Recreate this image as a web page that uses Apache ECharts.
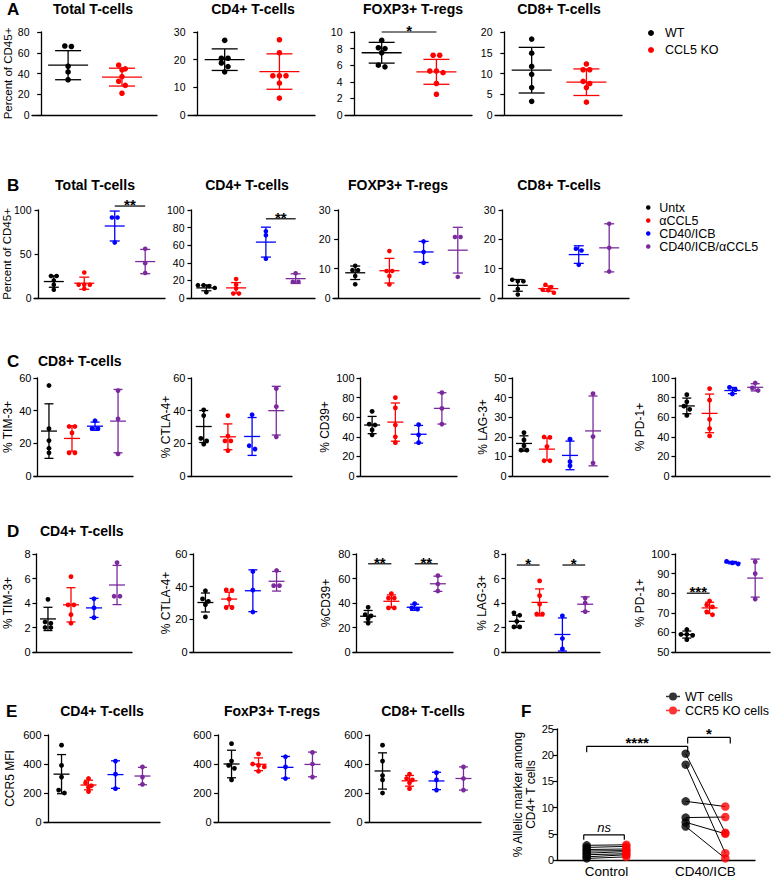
<!DOCTYPE html>
<html><head><meta charset="utf-8">
<script src="https://cdn.jsdelivr.net/npm/echarts@6.0.0/dist/echarts.min.js"></script>
<style>html,body{margin:0;padding:0;background:#fff;}#chart{width:772px;height:877px;}</style>
</head><body><div id="chart"></div>
<script>
// ---------------- group / category names ----------------
const groupsA = ['WT', 'CCL5 KO'];
const groupsB = ['Untx', 'αCCL5', 'CD40/ICB', 'CD40/ICB/αCCL5'];
const seriesF = ['WT cells', 'CCR5 KO cells'];
const categoriesF = ['Control', 'CD40/ICB'];

// ---------------- A: Percent of CD45+ ----------------
const aTotalAxis = [0, 80, 20];
const aTotalPts = [[66, 66.5, 47, 41.5, 34], [48, 44.5, 43.5, 37, 32.5, 28.5, 21]];
const aTotalMean = [48, 36.5];
const aTotalSd = [14, 8.6];
const aCd4Axis = [0, 30, 10];
const aCd4Pts = [[27, 20.5, 20.5, 18.8, 17.5, 15.6], [27.2, 22.5, 14.2, 14.2, 14.2, 11.5, 6.1]];
const aCd4Mean = [20, 15.7];
const aCd4Sd = [3.9, 6.4];
const aTregAxis = [0, 10, 2];
const aTregPts = [[9, 8.1, 8, 7.5, 6, 5.8], [7.2, 7.2, 5.3, 5.3, 5.1, 3.8, 2.5]];
const aTregMean = [7.5, 5.2];
const aTregSd = [1.25, 1.5];
const aTregSig = [[0, 1, 10, '*']];
const aCd8Axis = [0, 20, 5];
const aCd8Pts = [[18.3, 14.9, 11.7, 9.8, 6.6, 3.3], [12.3, 10.9, 10.9, 8.1, 7.6, 6.6, 3.1]];
const aCd8Mean = [10.8, 7.9];
const aCd8Sd = [5.5, 3.2];

// ---------------- B: Percent of CD45+ (treatments) ----------------
const bTotalAxis = [0, 100, 50];
const bTotalPts = [[25, 25, 20, 15, 9.5], [29, 15, 15, 15, 10.5], [91.5, 91.5, 63], [56, 39.5, 28.5]];
const bTotalMean = [18.7, 16.8, 81.8, 41.4];
const bTotalSd = [6.5, 6.9, 17, 13.8];
const bTotalSig = [[2, 3, 104.5, '**']];
const bCd4Axis = [0, 100, 20];
const bCd4Pts = [[14.6, 14.6, 13.5, 11.5, 6.5], [21.5, 15, 10.8, 5, 5], [75.8, 71.2, 44.6], [28, 18.5, 18.5]];
const bCd4Mean = [11.5, 11.5, 63.5, 22];
const bCd4Sd = [3.3, 6, 17, 5.5];
const bCd4Sig = [[2, 3, 90, '**']];
const bTregAxis = [0, 30, 10];
const bTregPts = [[11, 9.5, 9.5, 7.5, 4.7], [16, 9.2, 9.2, 7.5, 4.6], [19.3, 15.7, 12], [20.8, 20.8, 7.2]];
const bTregMean = [8.6, 9.3, 15.7, 16.3];
const bTregSd = [2.3, 4.2, 3.6, 7.8];
const bCd8Axis = [0, 30, 10];
const bCd8Pts = [[6.2, 5.7, 5.7, 3.1, 1.2], [4.5, 3.7, 2.8, 2.6, 1.8], [16.8, 16.2, 11.3], [25.3, 17.1, 9]];
const bCd8Mean = [4.3, 3.2, 14.8, 17.1];
const bCd8Sd = [2, 0.9, 3, 8.2];

// ---------------- C: CD8+ T-cells markers ----------------
const cTimAxis = [0, 60, 20];
const cTimPts = [[55.4, 29, 21.7, 17, 14.2], [30.3, 30.3, 26.4, 14.2, 14.2], [33.8, 29, 29], [52.3, 35, 13.5]];
const cTimMean = [27.5, 23, 30.5, 33.6];
const cTimSd = [16.7, 7.8, 2.5, 19.4];
const cCtlaAxis = [0, 60, 20];
const cCtlaPts = [[40.5, 37, 23, 21.5, 19.5], [37, 24.5, 21.5, 21.5, 15.5], [37.5, 18.5, 16.5], [53.5, 42.5, 24]];
const cCtlaMean = [30.3, 24, 24.2, 40];
const cCtlaSd = [9.8, 7.9, 11.6, 14.9];
const cCd39Axis = [0, 100, 20];
const cCd39Pts = [[66, 53, 52, 47, 42], [80, 69.5, 52, 40, 34], [52.5, 42, 34], [85, 69, 53]];
const cCd39Mean = [52, 55, 42.6, 69];
const cCd39Sd = [8.8, 19.5, 9, 16];
const cLagAxis = [0, 50, 10];
const cLagPts = [[22.1, 18.4, 15.4, 13.2, 13.2], [19.9, 19.7, 15, 7.8, 7.8], [18.8, 7.3, 5.2], [42, 20.1, 6.6]];
const cLagMean = [16.6, 13.7, 10.5, 23];
const cLagSd = [3.9, 5.7, 7.3, 17.8];
const cPd1Axis = [0, 100, 20];
const cPd1Pts = [[83, 75.7, 71.3, 68, 61.8], [89.2, 77.4, 57.8, 48.3, 40.9], [88.2, 90.5, 83.8], [87.2, 94.9, 89.9]];
const cPd1Mean = [71.5, 63.9, 87.2, 90.5];
const cPd1Sd = [8, 19.7, 3.2, 3.7];

// ---------------- D: CD4+ T-cells markers ----------------
const dTimAxis = [0, 8, 2];
const dTimPts = [[4.3, 2.45, 2.35, 2, 2], [6.15, 3.85, 3.85, 3.05, 2.35], [4.35, 3.6, 2.8], [7.3, 4.55, 4.55]];
const dTimMean = [2.7, 3.85, 3.6, 5.47];
const dTimSd = [0.95, 1.4, 0.78, 1.6];
const dCtlaAxis = [0, 60, 20];
const dCtlaPts = [[37.5, 32.5, 31, 29, 21.5], [38, 37.8, 32.4, 27.2, 27.2], [49.3, 37.9, 24.5], [49.9, 40.6, 40.6]];
const dCtlaMean = [30.3, 32.4, 37.5, 43.3];
const dCtlaSd = [5.8, 4.2, 12.8, 6];
const dCd39Axis = [0, 80, 20];
const dCd39Pts = [[36.5, 30.5, 29.5, 27, 23.5], [47.7, 44, 44, 36, 36], [39.5, 36, 35], [62.3, 55.5, 49.8]];
const dCd39Mean = [29.2, 41.4, 36.5, 55.7];
const dCd39Sd = [4.7, 5.2, 2.5, 6.2];
const dCd39Sig = [[0, 1, 72, '**'], [2, 3, 72, '**']];
const dLagAxis = [0, 8, 2];
const dLagPts = [[3.2, 3.0, 2.5, 2.05, 2.05], [5.8, 4.6, 3.9, 3.1, 3.1], [2.95, 1.1, 0.25], [4.4, 4.0, 3.3]];
const dLagMean = [2.5, 4.05, 1.43, 3.9];
const dLagSd = [0.5, 1.1, 1.35, 0.6];
const dLagSig = [[0, 1, 7.1, '*'], [2, 3, 7.1, '*']];
const dPd1Axis = [50, 100, 10];
const dPd1Pts = [[61.5, 59, 59, 58.5, 56.3], [76, 74, 73, 70.5, 69], [96.2, 95.5, 95], [96, 90, 77]];
const dPd1Mean = [58.9, 72.5, 95.6, 87.7];
const dPd1Sd = [1.8, 2.9, 0.6, 9.7];
const dPd1Sig = [[0, 1, 80, '***']];

// ---------------- E: CCR5 MFI ----------------
const eAxis = [0, 600, 200];
const eCd4Pts = [[530, 390, 310, 220, 200], [300, 270, 250, 240, 210], [420, 330, 230], [380, 310, 260]];
const eCd4Mean = [330, 255, 327, 317];
const eCd4Sd = [135, 33, 95, 60];
const eTregPts = [[540, 420, 390, 370, 290], [470, 400, 390, 380, 350], [450, 380, 300], [480, 400, 310]];
const eTregMean = [400, 398, 377, 397];
const eTregSd = [95, 44, 75, 85];
const eCd8Pts = [[530, 420, 320, 290, 200], [330, 300, 290, 270, 230], [340, 290, 220], [380, 300, 220]];
const eCd8Mean = [352, 284, 283, 300];
const eCd8Sd = [125, 37, 60, 80];

// ---------------- F: % allelic marker (paired) ----------------
const fAxis = [0, 25, 5];
const fControlWT = [2.8, 2.4, 2.0, 1.7, 1.3, 1.0, 0.6, 0.3];
const fControlKO = [2.9, 2.6, 2.1, 1.8, 1.6, 1.2, 1.0, 0.6];
const fTreatWT = [20.3, 18.2, 11.2, 8.1, 7.2, 6.4];
const fTreatKO = [5.2, 1.3, 10.2, 8.2, 5.0, 0.3];

// =================================================================
const FONT = '"Liberation Sans", Arial, Helvetica, sans-serif';
const COLS2 = ['#000000', '#ff0000'];
const COLS4 = ['#000000', '#ff0000', '#0000ff', '#7b2a9e'];

const grids = [], xAxes = [], yAxes = [], series = [], graphics = [];

function swarm(vals, cx, xpu, ypu, r) {
  const idx = vals.map((v, i) => i).sort((a, b) => vals[b] - vals[a]);
  const xs = new Array(vals.length).fill(cx);
  const d = 2 * r;
  let i = 0;
  while (i < idx.length) {
    let j = i + 1;
    while (j < idx.length && (vals[idx[i]] - vals[idx[j]]) * ypu < d * 0.8) j++;
    const n = j - i;
    for (let k = 0; k < n; k++) xs[idx[i + k]] = cx + (k - (n - 1) / 2) * (d + 1) / xpu;
    i = j;
  }
  return xs;
}

function errRender(mw, cw, cols) {
  return function (params, api) {
    const gx = api.value(0), m = api.value(1), s = api.value(2), g = api.value(3);
    const pm = api.coord([gx, m]), pt = api.coord([gx, m + s]), pb = api.coord([gx, m - s]);
    const st = { stroke: cols[g], lineWidth: 1.3, fill: null };
    return {
      type: 'group', children: [
        { type: 'line', shape: { x1: pt[0], y1: pt[1], x2: pb[0], y2: pb[1] }, style: st },
        { type: 'line', shape: { x1: pt[0] - cw, y1: pt[1], x2: pt[0] + cw, y2: pt[1] }, style: st },
        { type: 'line', shape: { x1: pb[0] - cw, y1: pb[1], x2: pb[0] + cw, y2: pb[1] }, style: st },
        { type: 'line', shape: { x1: pm[0] - mw, y1: pm[1], x2: pm[0] + mw, y2: pm[1] }, style: st }
      ]
    };
  };
}

function sigRender(text, tick, font, dy) {
  return function (params, api) {
    const a = api.coord([api.value(0), api.value(2)]);
    const b = api.coord([api.value(1), api.value(2)]);
    const st = { stroke: '#000', lineWidth: 1.2, fill: null };
    const ch = [{ type: 'line', shape: { x1: a[0], y1: a[1], x2: b[0], y2: b[1] }, style: st }];
    if (tick) {
      ch.push({ type: 'line', shape: { x1: a[0], y1: a[1], x2: a[0], y2: a[1] + tick }, style: st });
      ch.push({ type: 'line', shape: { x1: b[0], y1: b[1], x2: b[0], y2: b[1] + tick }, style: st });
    }
    ch.push({ type: 'text', x: (a[0] + b[0]) / 2, y: a[1] + dy,
      style: { text: text, fill: '#000', font: font, align: 'center', verticalAlign: 'bottom', textAlign: 'center', textVerticalAlign: 'bottom' } });
    return { type: 'group', children: ch };
  };
}

function addPanel(p) {
  const gi = grids.length;
  const [l, t, w, h] = p.grid;
  grids.push({ left: l, top: t, width: w, height: h, containLabel: false, outerBoundsMode: 'none' });
  const ng = p.groups.length;
  const xmin = ng === 2 ? -0.17 : -0.15, xmax = ng === 2 ? 2.15 : 4.15;
  xAxes.push({ gridIndex: gi, type: 'value', min: xmin, max: xmax,
    axisLine: { show: true, onZero: false, lineStyle: { color: '#000', width: 1.3 } },
    axisTick: { show: false }, axisLabel: { show: false }, splitLine: { show: false } });
  yAxes.push({ gridIndex: gi, type: 'value', min: p.axis[0], max: p.axis[1], interval: p.axis[2],
    axisLine: { show: true, lineStyle: { color: '#000', width: 1.3 } },
    axisTick: { show: true, length: 4, lineStyle: { color: '#000', width: 1.2 } },
    axisLabel: { fontSize: p.tfs || 11, color: '#000', margin: 2.5, fontFamily: FONT },
    splitLine: { show: false },
    name: p.yname || '', nameLocation: 'middle', nameGap: p.ngap || 20, nameMoveOverlap: false,
    nameTextStyle: { fontSize: p.nfs || 12, color: '#000', fontFamily: FONT } });
  const xpu = w / (xmax - xmin), ypu = h / (p.axis[1] - p.axis[0]);
  const cols = ng === 2 ? COLS2 : COLS4;
  p.pts.forEach((vals, g) => {
    const xs = swarm(vals, g + 0.5, xpu, ypu, p.r);
    series.push({ type: 'scatter', name: p.groups[g], xAxisIndex: gi, yAxisIndex: gi,
      symbolSize: p.r * 2, itemStyle: { color: cols[g], opacity: 1 },
      data: vals.map((v, i) => [xs[i], v]), z: 3, silent: true, clip: false });
  });
  series.push({ type: 'custom', xAxisIndex: gi, yAxisIndex: gi, renderItem: errRender(p.mw, p.cw, cols),
    data: p.mean.map((m, g) => [g + 0.5, m, p.sd[g], g]), z: 2, silent: true, clip: false });
  (p.sig || []).forEach(s => {
    series.push({ type: 'custom', xAxisIndex: gi, yAxisIndex: gi, renderItem: sigRender(s[3], 0, 'bold 15px ' + FONT, 6),
      data: [[s[0] + 0.5, s[1] + 0.5, s[2]]], z: 4, silent: true, clip: false });
  });
  if (p.title) {
    graphics.push({ type: 'text', x: p.tx, y: p.ty,
      style: { text: p.title, fill: '#000', font: 'bold 14px ' + FONT, align: p.talign || 'center', verticalAlign: 'middle',
        textAlign: p.talign || 'center', textVerticalAlign: 'middle' } });
  }
}

const big = { r: 2.8, mw: 20, cw: 13, tfs: 10.5 };
const mid = { r: 2.3, mw: 10, cw: 5, tfs: 10.5 };
const sm = { r: 2.4, mw: 8, cw: 4.5 };

const panels = [
  Object.assign({ grid: [32, 32, 125, 83], groups: groupsA, axis: aTotalAxis, pts: aTotalPts, mean: aTotalMean, sd: aTotalSd, title: 'Total T-cells', tx: 93, ty: 9, yname: 'Percent of CD45+', ngap: 18, nfs: 11.5 }, big),
  Object.assign({ grid: [188, 32, 127, 83], groups: groupsA, axis: aCd4Axis, pts: aCd4Pts, mean: aCd4Mean, sd: aCd4Sd, title: 'CD4+ T-cells', tx: 253, ty: 9 }, big),
  Object.assign({ grid: [345, 32, 127, 83], groups: groupsA, axis: aTregAxis, pts: aTregPts, mean: aTregMean, sd: aTregSd, sig: aTregSig, title: 'FOXP3+ T-regs', tx: 413, ty: 9 }, big),
  Object.assign({ grid: [495, 32, 127, 83], groups: groupsA, axis: aCd8Axis, pts: aCd8Pts, mean: aCd8Mean, sd: aCd8Sd, title: 'CD8+ T-cells', tx: 559, ty: 9 }, big),

  Object.assign({ grid: [34, 210, 131, 88], groups: groupsB, axis: bTotalAxis, pts: bTotalPts, mean: bTotalMean, sd: bTotalSd, sig: bTotalSig, title: 'Total T-cells', tx: 95, ty: 185, yname: 'Percent of CD45+', ngap: 21.5, nfs: 11.5 }, mid),
  Object.assign({ grid: [187, 210, 128, 88], groups: groupsB, axis: bCd4Axis, pts: bCd4Pts, mean: bCd4Mean, sd: bCd4Sd, sig: bCd4Sig, title: 'CD4+ T-cells', tx: 247, ty: 185 }, mid),
  Object.assign({ grid: [333, 210, 147, 88], groups: groupsB, axis: bTregAxis, pts: bTregPts, mean: bTregMean, sd: bTregSd, title: 'FOXP3+ T-regs', tx: 398, ty: 185 }, mid),
  Object.assign({ grid: [498, 210, 131, 88], groups: groupsB, axis: bCd8Axis, pts: bCd8Pts, mean: bCd8Mean, sd: bCd8Sd, title: 'CD8+ T-cells', tx: 559, ty: 185 }, mid),

  Object.assign({ grid: [34, 378, 99, 98], groups: groupsB, axis: cTimAxis, pts: cTimPts, mean: cTimMean, sd: cTimSd, yname: '% TIM-3+', ngap: 20, title: 'CD8+ T-cells', tx: 38, ty: 361, talign: 'left' }, sm),
  Object.assign({ grid: [188, 378, 104, 98], groups: groupsB, axis: cCtlaAxis, pts: cCtlaPts, mean: cCtlaMean, sd: cCtlaSd, yname: '% CTLA-4+', ngap: 16 }, sm),
  Object.assign({ grid: [357, 378, 100, 98], groups: groupsB, axis: cCd39Axis, pts: cCd39Pts, mean: cCd39Mean, sd: cCd39Sd, yname: '% CD39+', ngap: 26 }, sm),
  Object.assign({ grid: [509, 378, 99, 98], groups: groupsB, axis: cLagAxis, pts: cLagPts, mean: cLagMean, sd: cLagSd, yname: '% LAG-3+', ngap: 20 }, sm),
  Object.assign({ grid: [672, 378, 98, 98], groups: groupsB, axis: cPd1Axis, pts: cPd1Pts, mean: cPd1Mean, sd: cPd1Sd, yname: '% PD-1+', ngap: 26 }, sm),

  Object.assign({ grid: [33, 554, 99, 98], groups: groupsB, axis: dTimAxis, pts: dTimPts, mean: dTimMean, sd: dTimSd, yname: '% TIM-3+', ngap: 19, title: 'CD4+ T-cells', tx: 40, ty: 531, talign: 'left' }, sm),
  Object.assign({ grid: [190, 554, 102, 98], groups: groupsB, axis: dCtlaAxis, pts: dCtlaPts, mean: dCtlaMean, sd: dCtlaSd, yname: '% CTLA-4+', ngap: 18 }, sm),
  Object.assign({ grid: [353, 554, 100, 98], groups: groupsB, axis: dCd39Axis, pts: dCd39Pts, mean: dCd39Mean, sd: dCd39Sd, sig: dCd39Sig, yname: '%CD39+', ngap: 21 }, sm),
  Object.assign({ grid: [502, 554, 98, 98], groups: groupsB, axis: dLagAxis, pts: dLagPts, mean: dLagMean, sd: dLagSd, sig: dLagSig, yname: '% LAG-3+', ngap: 14 }, sm),
  Object.assign({ grid: [672, 554, 98, 98], groups: groupsB, axis: dPd1Axis, pts: dPd1Pts, mean: dPd1Mean, sd: dPd1Sd, sig: dPd1Sig, yname: '% PD-1+', ngap: 26 }, sm),

  Object.assign({ grid: [44, 735, 116, 87], groups: groupsB, axis: eAxis, pts: eCd4Pts, mean: eCd4Mean, sd: eCd4Sd, yname: 'CCR5 MFI', ngap: 28, title: 'CD4+ T-cells', tx: 102, ty: 711 }, sm),
  Object.assign({ grid: [214, 735, 116, 87], groups: groupsB, axis: eAxis, pts: eTregPts, mean: eTregMean, sd: eTregSd, title: 'FoxP3+ T-regs', tx: 272, ty: 711 }, sm),
  Object.assign({ grid: [365, 735, 116, 87], groups: groupsB, axis: eAxis, pts: eCd8Pts, mean: eCd8Mean, sd: eCd8Sd, title: 'CD8+ T-cells', tx: 423, ty: 711 }, sm)
];
panels.forEach(addPanel);

// ---------------- panel F ----------------
(function () {
  const gi = grids.length;
  grids.push({ left: 557, top: 729, width: 198, height: 131, containLabel: false, outerBoundsMode: 'none' });
  xAxes.push({ gridIndex: gi, type: 'value', min: 0, max: 2, interval: 0.5,
    axisLine: { show: true, onZero: false, lineStyle: { color: '#000', width: 1.3 } },
    axisTick: { show: false }, splitLine: { show: false },
    axisLabel: { fontSize: 13.5, color: '#000', margin: 4, fontFamily: FONT, showMinLabel: true, showMaxLabel: true,
      formatter: v => (Math.abs(v - 0.5) < 1e-6 ? categoriesF[0] : (Math.abs(v - 1.5) < 1e-6 ? categoriesF[1] : '')) } });
  yAxes.push({ gridIndex: gi, type: 'value', min: fAxis[0], max: fAxis[1], interval: fAxis[2],
    axisLine: { show: true, lineStyle: { color: '#000', width: 1.3 } },
    axisTick: { show: true, length: 4, lineStyle: { color: '#000', width: 1.2 } },
    axisLabel: { fontSize: 11, color: '#000', margin: 3, fontFamily: FONT }, splitLine: { show: false },
    name: '% Allelic marker among\nCD4+ T cells', nameLocation: 'middle', nameGap: 20, nameMoveOverlap: false,
    nameTextStyle: { fontSize: 12, color: '#000', fontFamily: FONT, lineHeight: 13 } });
  const off = 0.2;
  const pairs = [];
  fControlWT.forEach((v, i) => pairs.push([0.5, v, fControlKO[i]]));
  fTreatWT.forEach((v, i) => pairs.push([1.5, v, fTreatKO[i]]));
  series.push({ type: 'custom', xAxisIndex: gi, yAxisIndex: gi, z: 2, silent: true, clip: false, data: pairs,
    renderItem: (params, api) => {
      const a = api.coord([api.value(0) - off, api.value(1)]);
      const b = api.coord([api.value(0) + off, api.value(2)]);
      return { type: 'line', shape: { x1: a[0], y1: a[1], x2: b[0], y2: b[1] }, style: { stroke: '#000', lineWidth: 1, fill: null } };
    } });
  series.push({ type: 'scatter', name: seriesF[0], xAxisIndex: gi, yAxisIndex: gi, symbolSize: 8.5, z: 3, silent: true, clip: false,
    itemStyle: { color: '#000' },
    data: fControlWT.map(v => [0.5 - off, v]).concat(fTreatWT.map(v => [1.5 - off, v])) });
  series.push({ type: 'scatter', name: seriesF[1], xAxisIndex: gi, yAxisIndex: gi, symbolSize: 8.5, z: 3, silent: true, clip: false,
    itemStyle: { color: '#ff0000' },
    data: fControlKO.map(v => [0.5 + off, v]).concat(fTreatKO.map(v => [1.5 + off, v])) });
  const fSig = [[0.3, 1.32, 21.7, '****', 6, 'bold 15px ' + FONT, 4], [1.32, 1.75, 23.4, '*', 6, 'bold 15px ' + FONT, 4], [0.27, 0.68, 4.8, 'ns', 5, 'italic 13px ' + FONT, -1]];
  fSig.forEach(s => series.push({ type: 'custom', xAxisIndex: gi, yAxisIndex: gi, z: 4, silent: true, clip: false,
    data: [[s[0], s[1], s[2]]], renderItem: sigRender(s[3], s[4], s[5], s[6]) }));
})();

// ---------------- panel letters ----------------
[['A', 7, 9], ['B', 7, 185], ['C', 7, 361], ['D', 7, 531], ['E', 6, 711], ['F', 521, 711]].forEach(L => {
  graphics.push({ type: 'text', x: L[1], y: L[2],
    style: { text: L[0], fill: '#000', font: 'bold 17px ' + FONT, align: 'left', verticalAlign: 'middle', textAlign: 'left', textVerticalAlign: 'middle' } });
});

const chart = echarts.init(document.getElementById('chart'), null, { renderer: 'svg' });
chart.setOption({
  animation: false,
  backgroundColor: '#ffffff',
  textStyle: { fontFamily: FONT },
  grid: grids, xAxis: xAxes, yAxis: yAxes, series: series,
  graphic: graphics,
  legend: [
    { data: groupsA, orient: 'vertical', left: 648, top: 26, padding: 0, itemWidth: 18, itemHeight: 6, itemGap: 3, icon: 'circle', selectedMode: false,
      textStyle: { fontSize: 12.5, lineHeight: 14, color: '#000', fontFamily: FONT } },
    { data: groupsB, orient: 'vertical', left: 646, top: 201, padding: 0, itemWidth: 12, itemHeight: 4.5, itemGap: 0, icon: 'circle', selectedMode: false,
      textStyle: { fontSize: 12.5, lineHeight: 12, color: '#000', fontFamily: FONT } },
    { data: seriesF, orient: 'vertical', left: 666, top: 690, padding: 0, itemWidth: 14, itemHeight: 8, itemGap: 1, selectedMode: false,
      icon: 'path://M0,4.3H14V5.7H0Z M11,5A4,4,0,1,1,3,5A4,4,0,1,1,11,5Z',
      textStyle: { fontSize: 12.5, lineHeight: 13, color: '#000', fontFamily: FONT } }
  ]
});
</script>
</body></html>
